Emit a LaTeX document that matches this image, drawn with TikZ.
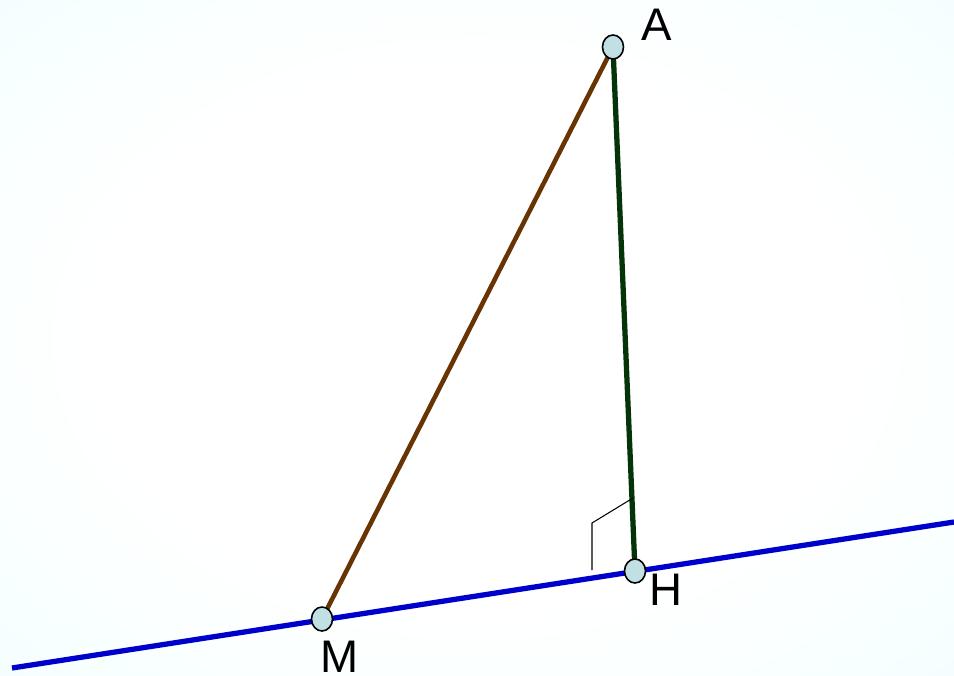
\documentclass[tikz,border=0pt]{standalone}
\usepackage{fontspec}
\setmainfont{Liberation Sans}
\usepackage{tikz}
\usetikzlibrary{
  backgrounds,
  calc,
  positioning
}
\definecolor{lineblue}{RGB}{0,0,204}
\definecolor{darkgreen}{RGB}{4,52,8}
\definecolor{brownline}{RGB}{104,52,4}
\definecolor{pointfill}{RGB}{192,224,228}
\definecolor{paleback}{RGB}{222,253,255}
\pgfdeclareradialshading{paleglow}{\pgfpoint{0bp}{0bp}}{
  color(0bp)=(white);
  color(20bp)=(white);
  color(70bp)=(paleback)}
\tikzset{
  pt/.style={draw=black,line width=0.9pt,fill=pointfill},
  lbl/.style={inner sep=0pt,font=\fontsize{26}{30}\selectfont}
}

\begin{document}
\begin{tikzpicture}[x=0.02cm,y=-0.02cm]
		% background
			\useasboundingbox (0,0) rectangle (954,676);
			\shade[shading=paleglow] (0,0) rectangle (954,676);
			\coordinate (A) at (613,47);
			\coordinate (H) at (635,571);
			\coordinate (M) at (322,619);
			\coordinate (L1) at (12,668);
			\coordinate (L2) at (954,522);
			\coordinate (R1) at (592,570);
			\coordinate (R2) at (592,523);
			\coordinate (R3) at (633,498);
			\draw[lineblue,line width=3pt] (L1)--(L2);
			\draw[brownline,line width=2.6pt] (M)--(A);
			\draw[darkgreen,line width=3pt] (A)--(H);
			\draw[black,line width=0.6pt] (R1)--(R2)--(R3);
			\foreach \p in {A,H,M}
				\draw[pt] (\p) ellipse [x radius=10.5,y radius=12];
			\node[lbl] (labA) at (657,25) {A};
			\node[lbl] (labH) at (666,590) {H};
			\node[lbl] (labM) at (340,657) {M};
		\end{tikzpicture}
\end{document}
